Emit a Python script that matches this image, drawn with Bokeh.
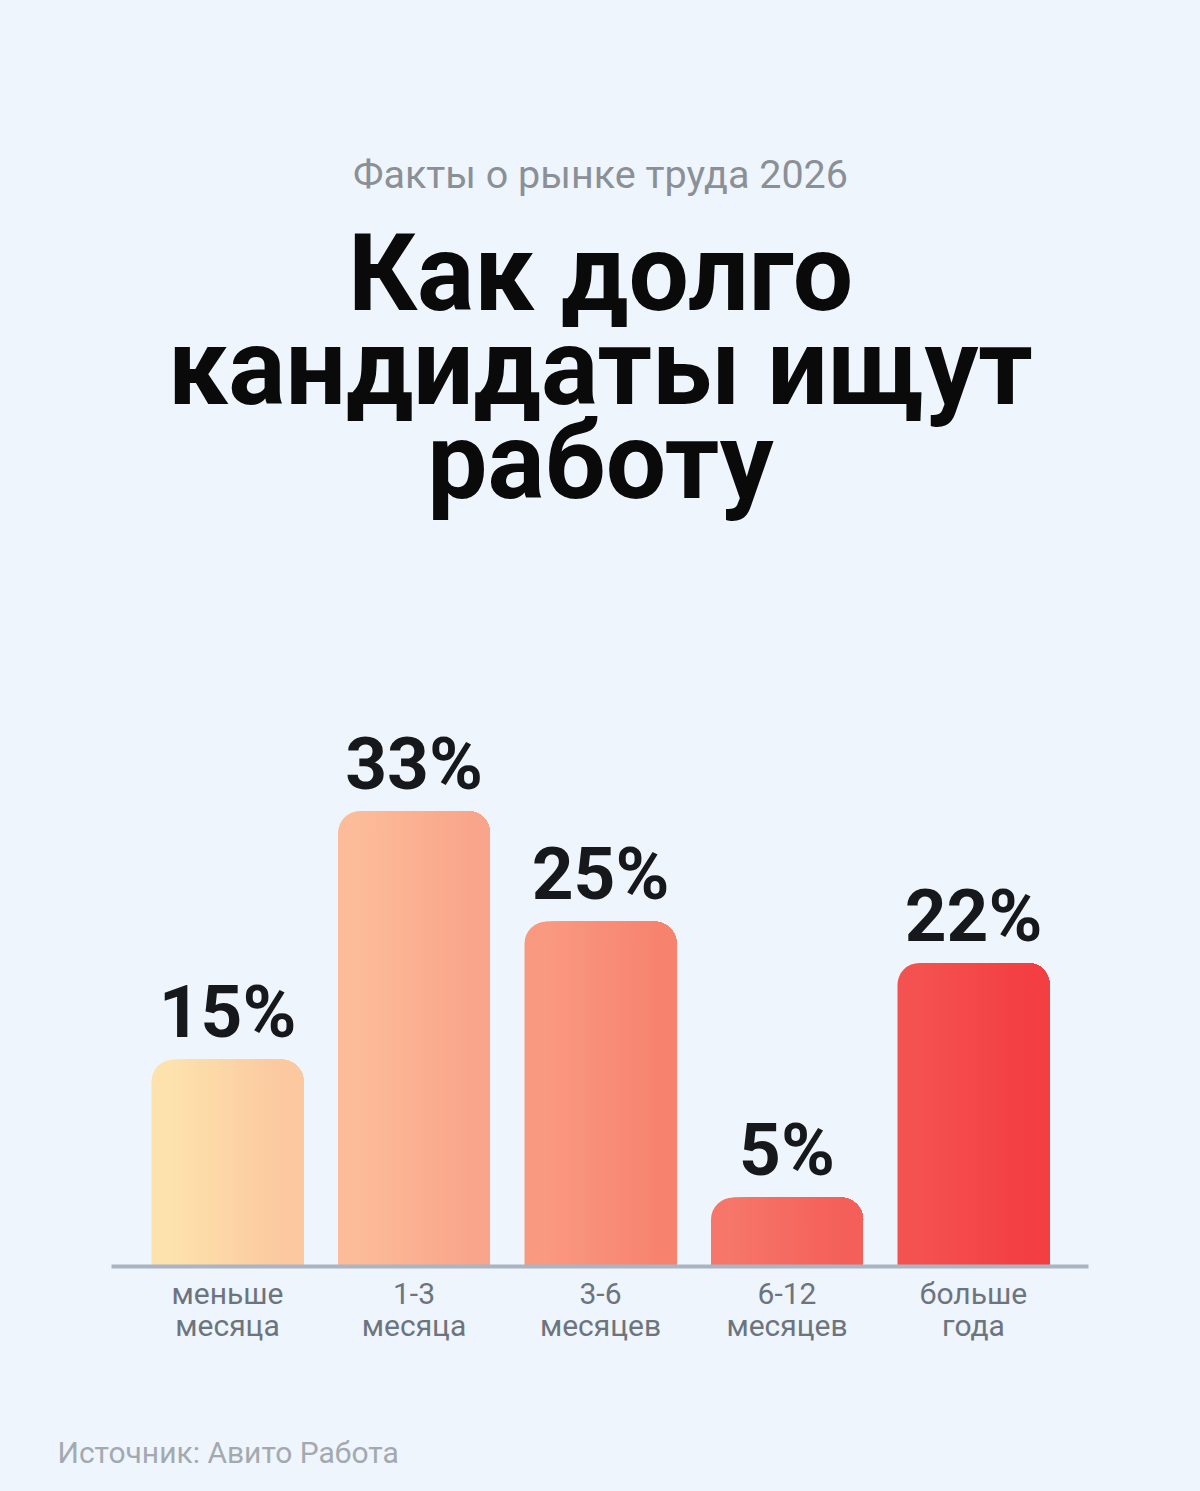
from bokeh.plotting import figure
from bokeh.models import Range1d, ColumnDataSource
from bokeh.core.properties import value
from bokeh.embed import file_html
from bokeh.resources import INLINE

# ---------------- data ----------------
categories = ["меньше\nмесяца", "1-3\nмесяца", "3-6\nмесяцев", "6-12\nмесяцев", "больше\nгода"]
shares = [15, 33, 25, 5, 22]
value_labels = ["15%", "33%", "25%", "5%", "22%"]
left_colors = ["#fde2ad", "#fcbc99", "#f99a80", "#f6766a", "#f45250"]
right_colors = ["#fcc89f", "#f9a58b", "#f7836f", "#f45f59", "#f33e42"]

subtitle = "Факты о рынке труда 2026"
title_lines = ["Как долго", "кандидаты ищут", "работу"]
source_text = "Источник: Авито Работа"

# ---------------- geometry helpers (page pixel -> data) ----------------
W, H = 1200, 1491
CAT_PX = 186.5          # pixels per category step
PCT_PX = 13.8           # pixels per percent
def X(px):
    return (px - 227.0) / CAT_PX
def Y(py):
    return (1266.0 - py) / PCT_PX
def base(py, fs):
    # y for text_baseline="alphabetic" so that the visible baseline lands at py
    return Y(py - 0.36 * fs)

BG = "#eef5fc"
p = figure(width=W, height=H, output_backend="svg", toolbar_location=None,
           x_range=Range1d(X(0), X(W)), y_range=Range1d(Y(H), Y(0)),
           min_border=0, outline_line_color=None)
p.axis.visible = False
p.grid.visible = False
p.background_fill_color = BG
p.border_fill_color = BG

# ---------------- bars with horizontal gradient ----------------
def hex2rgb(h):
    h = h.lstrip("#")
    return tuple(int(h[i:i + 2], 16) for i in (0, 2, 4))
def mix(a, b, t):
    ra, rb = hex2rgb(a), hex2rgb(b)
    return "#%02x%02x%02x" % tuple(round(ra[j] + (rb[j] - ra[j]) * t) for j in range(3))

idx = list(range(len(shares)))
half = 0.5 * 152 / CAT_PX
rad = 22
rad_u = rad / CAT_PX
N = 26
for k in range(N + 1):
    t = k / N
    if k == 0:
        lefts = [i - half for i in idx]
        br = (rad, rad, 0, 0)
    else:
        lefts = [i - half + rad_u + (2 * half - 2 * rad_u) * (k - 1) / (N - 1) for i in idx]
        br = (0, rad, 0, 0)
    src = ColumnDataSource(dict(
        left=lefts, right=[i + half for i in idx], top=shares, bottom=[0] * len(idx),
        color=[mix(left_colors[i], right_colors[i], t) for i in idx]))
    p.quad(left="left", right="right", top="top", bottom="bottom", source=src,
           fill_color="color", line_color=None, border_radius=br)

# baseline
p.line(x=[X(111), X(1088)], y=[0, 0], line_color="#a9b4c4", line_width=4)

# value labels
VFS = 73
p.text(x=idx, y=[s + (21 + 0.36 * VFS) / PCT_PX for s in shares], text=value_labels,
       text_font=value("Roboto"), text_font_style="bold", text_font_size="%dpx" % VFS,
       text_color="#16181c", text_align="center", text_baseline="alphabetic")

# category labels (two lines each)
CFS = 30
line1 = [c.split("\n")[0] for c in categories]
line2 = [c.split("\n")[1] for c in categories]
for txt, py in ((line1, 1304), (line2, 1336)):
    p.text(x=idx, y=[base(py, CFS)] * len(idx), text=txt,
           text_font=value("Roboto"), text_font_size="%dpx" % CFS, text_color="#6d747e",
           text_align="center", text_baseline="alphabetic")

# titles
SFS = 39.5
p.text(x=[X(600)], y=[base(188, SFS)], text=[subtitle], text_font=value("Roboto"),
       text_font_size="%spx" % SFS, text_color="#8b9097", text_align="center",
       text_baseline="alphabetic")
TFS = 107
for j, line in enumerate(title_lines):
    p.text(x=[X(600)], y=[base(312 + 94 * j, TFS)], text=[line], text_font=value("Roboto"),
           text_font_style="bold", text_font_size="%dpx" % TFS, text_color="#0a0a0a",
           text_align="center", text_baseline="alphabetic")

FFS = 30
p.text(x=[X(57)], y=[base(1463, FFS)], text=[source_text], text_font=value("Roboto"),
       text_font_size="%dpx" % FFS, text_color="#a4a9b0", text_align="left",
       text_baseline="alphabetic")

html = file_html(p, INLINE)
html = html.replace("<head>", "<head><style>body{background:%s;}</style>" % BG, 1)
open("out.html", "w").write(html)
